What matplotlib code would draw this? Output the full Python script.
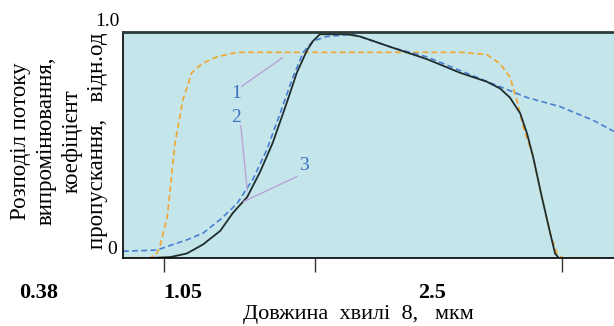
import matplotlib
matplotlib.use("Agg")
import matplotlib.pyplot as plt

# wavelength axis in relative units (0..100 across the plot)
x_filter = [1.4, 5.5, 6.9, 7.5, 9.0, 10.6, 12.2, 14.0, 16.1, 19.1, 23.2, 32, 56, 69,
            74.1, 76.8, 78.8, 80.2, 81.5, 83.5, 85.3, 87.0, 88.4, 89.6, 97]
y_filter = [0, 0, 0.02, 0.05, 0.18, 0.51, 0.70, 0.82, 0.86, 0.89, 0.91, 0.91, 0.91, 0.91,
            0.90, 0.86, 0.80, 0.70, 0.58, 0.45, 0.27, 0.11, 0.02, 0.0, 0]

x_source = [0, 6.9, 10.2, 13.0, 16.3, 19.8, 23.2, 26.5, 29.3, 32.0, 34.6, 36.7, 38.7,
            41.5, 46.8, 55.0, 61.9, 68.6, 75.4, 82.3, 89.0, 95.7, 100]
y_source = [0.03, 0.035, 0.06, 0.08, 0.11, 0.17, 0.24, 0.35, 0.48, 0.64, 0.80, 0.91, 0.96,
            0.98, 0.99, 0.93, 0.89, 0.83, 0.77, 0.71, 0.67, 0.61, 0.56]

x_result = [5.5, 9.6, 13.0, 16.3, 19.8, 22.4, 25.3, 27.9, 30.5, 33.4, 35.4, 37.5, 38.7,
            40.1, 42.8, 45.6, 48.3, 55.0, 61.9, 68.6, 74.1, 76.8, 78.8, 80.9, 82.3,
            83.5, 85.3, 87.0, 88.0, 88.6]
y_result = [0, 0.004, 0.02, 0.06, 0.12, 0.20, 0.27, 0.38, 0.51, 0.69, 0.82, 0.92, 0.96,
            0.99, 0.99, 0.99, 0.98, 0.93, 0.88, 0.82, 0.78, 0.75, 0.71, 0.64, 0.55,
            0.45, 0.27, 0.11, 0.02, 0.004]

tick_pos = [8.35, 39.1, 89.4]
tick_labels = ['0.38', '1.05', '2.5']
ylabel_lines = ['Розподіл потоку', 'випромінювання,', 'коефіцієнт', 'пропускання,   відн.од']

plt.rcParams['font.family'] = 'Liberation Serif'

fig = plt.figure(figsize=(6.14, 3.26), dpi=100)
ax = fig.add_axes([123 / 614, 68 / 326, 1 - 123 / 614, 226 / 326])
ax.set_facecolor('#c4e6eb')
ax.set_xlim(0, 100)
ax.set_ylim(0, 1)

ax.plot(x_filter, y_filter, color='#f0a630', lw=1.2, ls=(0, (3.5, 2)))
ax.plot(x_source, y_source, color='#4a7fd4', lw=1.2, ls=(0, (3.5, 2)))
ax.plot(x_result, y_result, color='#1f2d2d', lw=1.3)

# curve numbers with leader lines
lead = '#b9a2d6'
ax.plot([24.2, 32.4], [0.76, 0.885], color=lead, lw=1)
ax.plot([24.0, 25.3], [0.584, 0.30], color=lead, lw=1)
ax.plot([35.4, 24.6], [0.36, 0.25], color=lead, lw=1)
ax.text(23.0, 0.73, '1', color='#3d6fc0', fontsize=14, ha='center', va='center')
ax.text(23.0, 0.62, '2', color='#3d6fc0', fontsize=14, ha='center', va='center')
ax.text(36.9, 0.41, '3', color='#3d6fc0', fontsize=14, ha='center', va='center')

ax.spines['right'].set_visible(False)
ax.spines['top'].set_color('#2d3b3b')
ax.spines['top'].set_linewidth(2)
ax.spines['left'].set_linewidth(1.2)
ax.spines['bottom'].set_linewidth(1.2)

ax.set_yticks([])
ax.set_xticks(tick_pos)
ax.set_xticklabels([])
ax.tick_params(axis='x', direction='out', length=10, width=1, color='#333333')

fig.text(107 / 614, 1 - 21 / 326, '1.0', fontsize=14, ha='center', va='center')
fig.text(112 / 614, 1 - 250 / 326, '0', fontsize=14, ha='center', va='center')

label_x = [39, 183, 432]
for px, lab in zip(label_x, tick_labels):
    fig.text(px / 614, 1 - 293 / 326, lab, fontsize=16, fontweight='bold',
             ha='center', va='center')

fig.text(358 / 614, 1 - 315 / 326, 'Довжина  хвилі  8,   мкм', fontsize=16,
         ha='center', va='center')

for i, line in enumerate(ylabel_lines):
    fig.text((21 + 25.5 * i) / 614, 1 - 141 / 326, line, fontsize=16.5, rotation=90,
             ha='center', va='center')

fig.savefig('out.png', dpi=100)
